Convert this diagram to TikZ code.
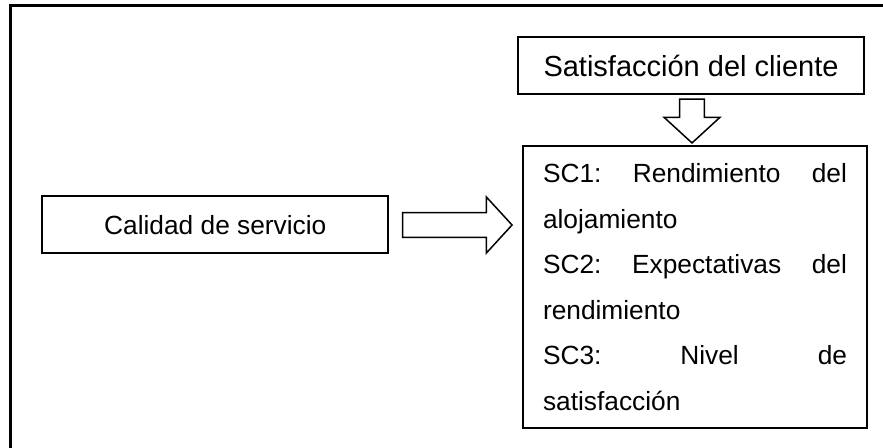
\documentclass[tikz,border=0pt]{standalone}
\usepackage{fontspec}
\setmainfont{Liberation Sans}
\usepackage{tikz}
\usetikzlibrary{positioning, shapes.arrows, calc}
\definecolor{lineBlack}{RGB}{0,0,0}
\tikzset{
    caja/.style={rectangle, draw=lineBlack, line width=1pt, align=center,
                 minimum width=173pt, minimum height=28.5pt, inner sep=0pt,
                 font=\fontsize{13.15}{16}\selectfont},
    lista/.style={rectangle, draw=lineBlack, line width=1pt, align=left,
                  text width=152pt, inner xsep=10pt, inner ysep=8.6pt,
                  font=\fontsize{13.15}{22.75}\selectfont},
    flecha/.style={single arrow, draw=lineBlack, line width=0.75pt, fill=white,
                   inner xsep=0pt, inner ysep=5.8pt, single arrow head extend=7.8pt,
                   single arrow tip angle=95, minimum height=#1},
    marco/.style={draw=lineBlack, line width=1.5pt}
}
\begin{document}
\begin{tikzpicture}[x=0.5pt, y=-0.5pt]
    \useasboundingbox (0,0) rectangle (883,448);
    % Frame
    \draw[marco] (883,6) -| (10,448);

    % Boxes
    \node[caja] (calidad) at (215.3,225) {Calidad de servicio};
    \node[caja, font=\fontsize{14.5}{17}\selectfont] (sat) at (691,66) {Satisfacción del cliente};
    \node[lista, below=25pt of sat, xshift=2pt] (sc) {SC1:\hfill Rendimiento\hfill del\\
        alojamiento\\
        SC2:\hfill Expectativas\hfill del\\
        rendimiento\\
        SC3:\hfill Nivel\hfill de\\
        satisfacción};

    % Arrows
    \node[flecha=54.7pt, anchor=tail] (haciaSC) at ([xshift=6.3pt]calidad.east) {};
    \node[flecha=21.85pt, shape border rotate=270, inner xsep=5.8pt, inner ysep=0pt,
          anchor=tail] (haciaAbajo) at ([yshift=-1.5pt,xshift=0.5pt]sat.south) {};
\end{tikzpicture}
\end{document}
